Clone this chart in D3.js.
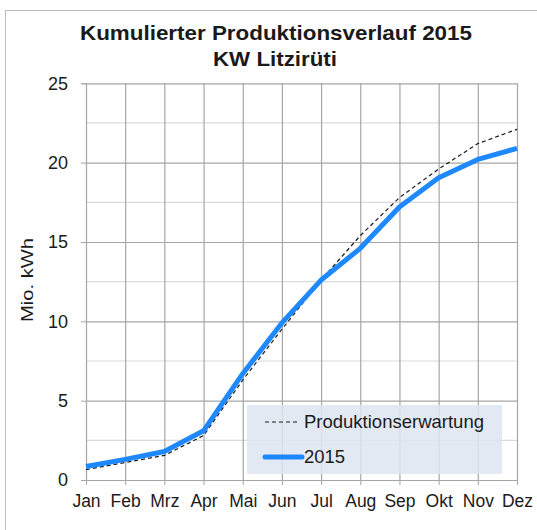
<!DOCTYPE html>
<html>
<head>
<meta charset="utf-8">
<script src="https://cdn.jsdelivr.net/npm/d3@7"></script>
<style>
  body { margin: 0; background: #fff; }
  svg text { font-family: "Liberation Sans", Arial, sans-serif; fill: #1a1a1a; }
</style>
</head>
<body>
<script>
// data
let months = ['Jan', 'Feb', 'Mrz', 'Apr', 'Mai', 'Jun', 'Jul', 'Aug', 'Sep', 'Okt', 'Nov', 'Dez'];
let erwartung = [0.65, 1.1, 1.55, 2.8, 6.3, 9.5, 12.6, 15.4, 17.8, 19.6, 21.2, 22.1];
let ist2015 = [0.85, 1.3, 1.8, 3.1, 6.7, 9.9, 12.6, 14.6, 17.2, 19.05, 20.2, 20.9];
let yTicks = [0, 5, 10, 15, 20, 25];
let yMinor = [2.5, 7.5, 12.5, 17.5, 22.5];

let width = 537;
let height = 530;
let plotLeft = 86, plotRight = 517, plotTop = 83.3, plotBottom = 480;

let svg = d3.select('body').append('svg')
   .attr('width', width)
   .attr('height', height);

// outer frame
svg.append('rect')
   .attr('x', 5.5).attr('y', 10.5)
   .attr('width', 540).attr('height', 540)
   .attr('fill', 'none')
   .attr('stroke', '#bdbdbd');

let xScale = d3.scalePoint().domain(months).range([plotLeft, plotRight]);
let yScale = d3.scaleLinear().domain([0, 25]).range([plotBottom, plotTop]);

// minor gridlines
svg.append('g')
   .selectAll('line')
   .data(yMinor)
   .enter()
   .append('line')
   .attr('x1', plotLeft).attr('x2', plotRight)
   .attr('y1', (d) => yScale(d)).attr('y2', (d) => yScale(d))
   .attr('stroke', '#d9d9d9')
   .attr('stroke-width', 1.2);

// major horizontal gridlines
svg.append('g')
   .call(d3.axisLeft(yScale).tickValues(yTicks).tickSize(-(plotRight - plotLeft)).tickFormat(''))
   .attr('transform', 'translate(' + plotLeft + ',0)')
   .call((g) => g.select('.domain').remove())
   .call((g) => g.selectAll('line').attr('stroke', '#a6a6a6').attr('stroke-width', 1.2));

// vertical gridlines
svg.append('g')
   .call(d3.axisBottom(xScale).tickSize(-(plotBottom - plotTop)).tickFormat(''))
   .attr('transform', 'translate(0,' + plotBottom + ')')
   .call((g) => g.select('.domain').remove())
   .call((g) => g.selectAll('line').attr('stroke', '#a6a6a6').attr('stroke-width', 1.2));

// y axis
let yAxis = svg.append('g')
   .call(d3.axisLeft(yScale).tickValues(yTicks).tickSize(5).tickPadding(13))
   .attr('transform', 'translate(' + plotLeft + ',0)');
yAxis.select('.domain').attr('stroke', '#a6a6a6');
yAxis.selectAll('line').attr('stroke', '#a6a6a6');
yAxis.selectAll('text').style('font-size', '18px').attr('fill', '#1a1a1a');

// x axis
let xAxis = svg.append('g')
   .call(d3.axisBottom(xScale).tickSize(5).tickPadding(10))
   .attr('transform', 'translate(0,' + plotBottom + ')');
xAxis.select('.domain').attr('stroke', '#a6a6a6');
xAxis.selectAll('line').attr('stroke', '#a6a6a6');
xAxis.selectAll('text').style('font-size', '17.5px').attr('fill', '#1a1a1a');

// lines
let line = d3.line()
   .x((d, i) => xScale(months[i]))
   .y((d) => yScale(d));

svg.append('path')
   .datum(erwartung)
   .attr('d', line)
   .attr('fill', 'none')
   .attr('stroke', '#1a1a1a')
   .attr('stroke-width', 1.2)
   .attr('stroke-dasharray', '4,3');

svg.append('path')
   .datum(ist2015)
   .attr('d', line)
   .attr('fill', 'none')
   .attr('stroke', '#1e88ff')
   .attr('stroke-width', 5)
   .attr('stroke-linejoin', 'round');

// title
svg.append('text')
   .attr('x', 80).attr('y', 40)
   .attr('textLength', 392).attr('lengthAdjust', 'spacingAndGlyphs')
   .style('font-size', '20.5px').style('font-weight', 'bold')
   .text('Kumulierter Produktionsverlauf 2015');
svg.append('text')
   .attr('x', 213).attr('y', 66)
   .attr('textLength', 124).attr('lengthAdjust', 'spacingAndGlyphs')
   .style('font-size', '20.5px').style('font-weight', 'bold')
   .text('KW Litzirüti');

// y axis caption
svg.append('text')
   .attr('transform', 'translate(33,280) rotate(-90)')
   .attr('text-anchor', 'middle')
   .attr('textLength', 84).attr('lengthAdjust', 'spacingAndGlyphs')
   .style('font-size', '17px')
   .text('Mio. kWh');

// legend
let legend = svg.append('g');
legend.append('rect')
   .attr('x', 247).attr('y', 405)
   .attr('width', 255).attr('height', 69)
   .attr('fill', 'rgb(222, 229, 240)')
   .attr('opacity', 0.85);
legend.append('line')
   .attr('x1', 265).attr('x2', 300)
   .attr('y1', 422).attr('y2', 422)
   .attr('stroke', '#1a1a1a')
   .attr('stroke-width', 1.2)
   .attr('stroke-dasharray', '4,3');
legend.append('text')
   .attr('x', 304).attr('y', 428)
   .style('font-size', '18.5px')
   .text('Produktionserwartung');
legend.append('line')
   .attr('x1', 265).attr('x2', 302)
   .attr('y1', 457).attr('y2', 457)
   .attr('stroke', '#1e88ff')
   .attr('stroke-width', 5)
   .attr('stroke-linecap', 'round');
legend.append('text')
   .attr('x', 304).attr('y', 463)
   .style('font-size', '18.5px')
   .text('2015');
</script>
</body>
</html>
